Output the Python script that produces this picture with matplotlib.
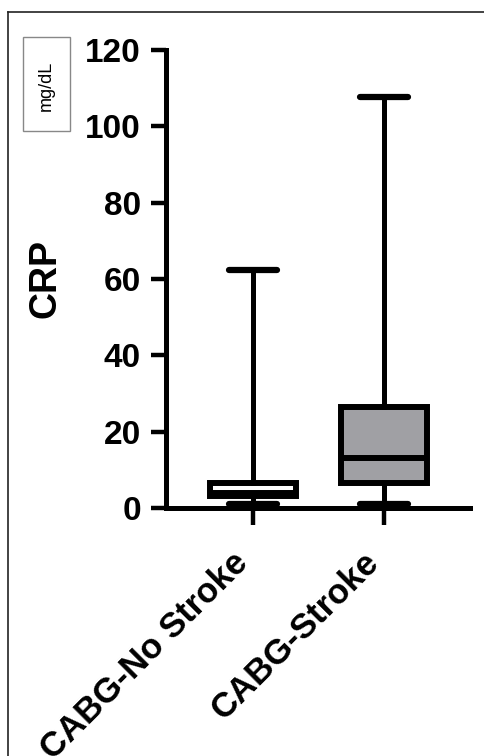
import matplotlib
matplotlib.use("Agg")
import matplotlib.pyplot as plt
import matplotlib.transforms as mtransforms
from matplotlib.patches import Rectangle
from matplotlib.lines import Line2D

plt.rcParams["font.family"] = ["Liberation Sans", "DejaVu Sans"]

# data (mg/dL)
groups = ["CABG-No Stroke", "CABG-Stroke"]
whisker_low = [1.0, 1.0]
q1 = [3.1, 6.5]
median = [3.9, 13.1]
q3 = [6.6, 26.5]
whisker_high = [62.4, 107.7]
box_colors = ["white", "#a0a0a4"]
yticks = [0, 20, 40, 60, 80, 100, 120]
positions = [1, 2]

stats = []
for i, g in enumerate(groups):
    stats.append({"label": g, "whislo": whisker_low[i], "q1": q1[i], "med": median[i],
                  "q3": q3[i], "whishi": whisker_high[i], "fliers": []})

fig = plt.figure(figsize=(4.84, 7.56), dpi=100)
ax = fig.add_axes([0.343, 0.328, 0.628, 0.606])

bp = ax.bxp(stats, positions=positions, widths=0.66, patch_artist=True, showfliers=False,
            boxprops=dict(linewidth=4.3, edgecolor="black"),
            medianprops=dict(linewidth=4.3, color="black"),
            whiskerprops=dict(linewidth=3.6, color="black"),
            capprops=dict(linewidth=4.5, color="black", solid_capstyle="round"),
            capwidths=0.36)
for patch, c in zip(bp["boxes"], box_colors):
    patch.set_facecolor(c)

ax.set_xlim(0.336, 2.656)
ax.set_ylim(0, 120)
ax.set_yticks(yticks)
ax.set_xticks(positions)
ax.set_xticklabels([""] * len(groups))

# rotated category labels, placed a bit left of the ticks as in the original
shift = mtransforms.ScaledTranslation(-22 / 100, -38 / 100, fig.dpi_scale_trans)
for p, g in zip(positions, groups):
    ax.text(p, 0, g, transform=ax.get_xaxis_transform() + shift, rotation=45,
            ha="right", va="top", rotation_mode="anchor", fontsize=25,
            fontweight="bold", clip_on=False)

for lab in ax.get_yticklabels():
    lab.set_fontweight("bold")
    lab.set_fontsize(24)
ax.tick_params(axis="y", length=11, width=3.2, pad=7)
ax.tick_params(axis="x", length=12, width=3.2, pad=12)
for s in ["top", "right"]:
    ax.spines[s].set_visible(False)
for s in ["left", "bottom"]:
    ax.spines[s].set_linewidth(3.6)
ax.set_ylabel("CRP", fontsize=27, fontweight="bold", labelpad=16)

# unit box
fig.patches.append(Rectangle((23 / 484, 1 - 131 / 756), 47 / 484, 94 / 756,
                             transform=fig.transFigure, fill=False,
                             edgecolor="#888888", linewidth=1.0))
fig.text(46.5 / 484, 1 - 86 / 756, "mg/dL", rotation=90, ha="center", va="center",
         fontsize=13)

# outer frame
fig.lines.append(Line2D([8 / 484, 8 / 484], [0, 1 - 12 / 756], transform=fig.transFigure,
                        color="#222222", linewidth=1.2))
fig.lines.append(Line2D([8 / 484, 1], [1 - 12 / 756, 1 - 12 / 756], transform=fig.transFigure,
                        color="#222222", linewidth=1.2))

fig.savefig("out.png", dpi=100)
